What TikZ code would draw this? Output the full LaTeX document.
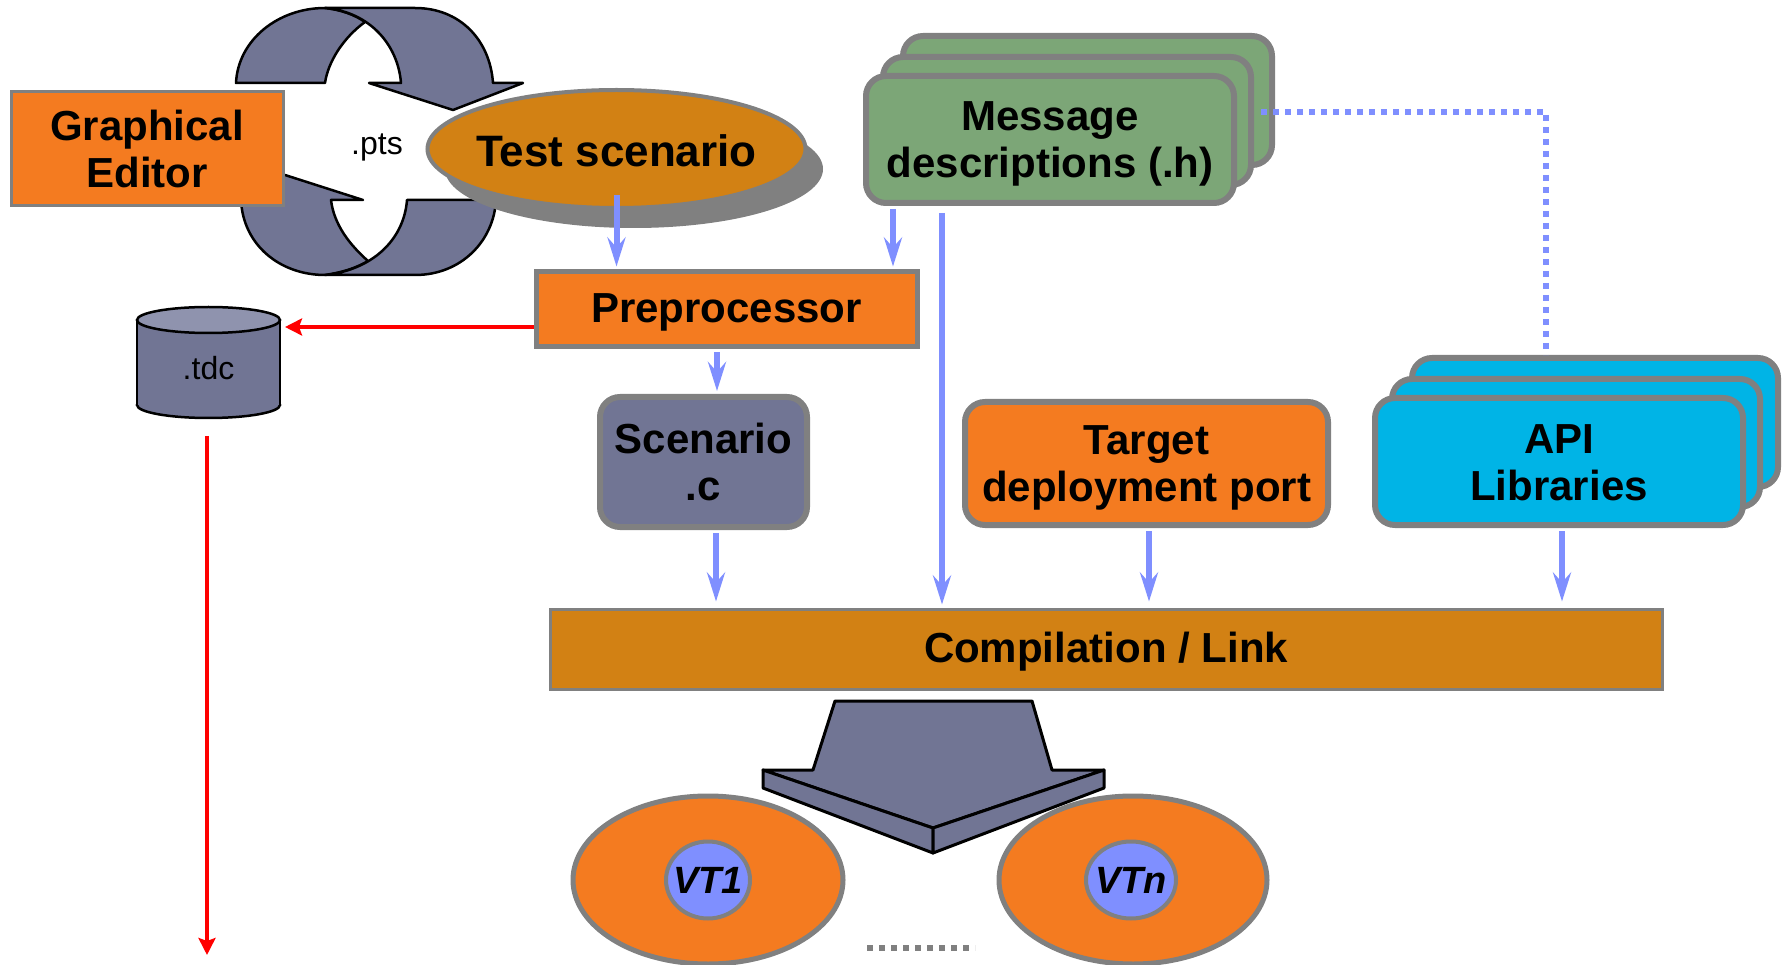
\documentclass[tikz,border=0pt]{standalone}
\usepackage{fontspec}
\setmainfont{Liberation Sans}
\usetikzlibrary{arrows.meta,shapes.geometric,calc}
\definecolor{orng}{HTML}{F47B20}
\definecolor{gold}{HTML}{D28114}
\definecolor{slate}{HTML}{717594}
\definecolor{slatelt}{HTML}{8F93AE}
\definecolor{grn}{HTML}{7CA677}
\definecolor{cyn}{HTML}{00B4E6}
\definecolor{blu}{HTML}{7F8FFF}
\definecolor{bord}{HTML}{808080}
\begin{document}
\begin{tikzpicture}[x=1pt,y=-1pt,
  txt/.style={font=\fontsize{42}{47}\selectfont\bfseries, align=center, text=black, inner sep=0pt},
  sqbox/.style={txt, draw=bord, line width=3pt},
  rdbox/.style={txt, draw=bord, line width=6pt, rounded corners=20pt},
  oval/.style={ellipse, draw=bord, inner sep=0pt},
  vtlabel/.style={font=\fontsize{38}{40}\selectfont\bfseries\itshape, inner sep=0pt},
  plain/.style={font=\fontsize{32}{36}\selectfont, inner sep=0pt},
  ribbon/.style={fill=slate, draw=black, line width=2.5pt, line join=round},
  flow/.style={draw=blu, line width=6pt, -{Stealth[length=29pt,width=18pt,inset=10pt]}, shorten >=3pt},
  link/.style={draw=red, line width=4pt, -{Stealth[length=17pt,width=17pt,inset=3pt]}},
  dotline/.style={line width=6pt, dash pattern=on 6pt off 6pt}
]
\useasboundingbox (0,0) rectangle (1786,965);

% circular arrow: upper half (back ribbon, then front ribbon with head)
\path[ribbon] (236,83) .. controls (238,40) and (278,8) .. (325,8)
  .. controls (342,10) and (355,15) .. (365,22)
  .. controls (343,38) and (328,62) .. (325,83) -- cycle;
\path[ribbon] (325,8) -- (415,8) .. controls (460,8) and (490,40) .. (493,83)
  -- (523,83) -- (453,110) -- (369,83) -- (401,83)
  .. controls (398,45) and (370,12) .. (325,8) -- cycle;
% circular arrow: lower half (back ribbon with head, then front ribbon)
\path[ribbon] (209,200) -- (241,200) .. controls (243,245) and (280,275) .. (325,275)
  .. controls (345,272) and (358,267) .. (368,261)
  .. controls (350,245) and (334,225) .. (331,200)
  -- (363,200) -- (285,175) -- cycle;
\path[ribbon] (325,275) -- (415,275) .. controls (462,275) and (494,240) .. (496,200)
  -- (407,200) .. controls (404,240) and (372,270) .. (325,275) -- cycle;

\node[sqbox, fill=orng, minimum width=272pt, minimum height=114pt] (ged) at (147,149) {Graphical\\Editor};
\node[plain] (pts) at (377,147) {.pts};

% test scenario with its shadow
\fill[bord] (634,169) ellipse [x radius=189, y radius=59];
\node[oval, line width=4pt, fill=gold, minimum width=378pt, minimum height=118pt] (ts) at (616.5,149) {};
\node[txt, font=\fontsize{44}{48}\selectfont\bfseries] (tslbl) at ($(ts)+(0,2)$) {Test scenario};

% message descriptions stack
\node[rdbox, fill=grn, minimum width=369pt, minimum height=129pt] (msgB) at (1087.5,100.5) {};
\node[rdbox, fill=grn, minimum width=368pt, minimum height=128pt] (msgM) at (1067,121) {};
\node[rdbox, fill=grn, minimum width=368pt, minimum height=127pt] (msg) at (1050,139.5) {};
\node[txt] (msglbl) at ($(msg)+(0,4)$) {Message\\descriptions (.h)};

\node[sqbox, line width=5pt, fill=orng, minimum width=381pt, minimum height=75pt] (pre) at (726.5,309.5) {};
\node[txt] (prelbl) at ($(pre)+(0,3)$) {Preprocessor};
\node[rdbox, fill=slate, minimum width=207pt, minimum height=130pt] (scn) at (703.5,462) {Scenario\\.c};
\node[rdbox, fill=orng, minimum width=363pt, minimum height=123pt] (tgt) at (1146.5,463.5) {};
\node[txt] (tgtlbl) at ($(tgt)+(0,4)$) {Target\\deployment port};

% API libraries stack
\node[rdbox, fill=cyn, minimum width=366pt, minimum height=129pt] (apiB) at (1595,422.5) {};
\node[rdbox, fill=cyn, minimum width=368pt, minimum height=128pt] (apiM) at (1576,443) {};
\node[rdbox, fill=cyn, minimum width=368pt, minimum height=127pt] (api) at (1559,461.5) {};
\node[txt] (apilbl) at ($(api)+(0,1)$) {API\\Libraries};

\node[sqbox, fill=gold, minimum width=1112pt, minimum height=80pt] (cmp) at (1106,649) {};
\node[txt] (cmplbl) at ($(cmp)+(0,3)$) {Compilation / Link};

% .tdc data store
\filldraw[fill=slate, draw=black, line width=2.5pt] (208.5,405) ellipse [x radius=71.5, y radius=13];
\fill[slate] (137,320) rectangle (280,405);
\draw[black, line width=2.5pt] (137,320) -- (137,405) (280,320) -- (280,405);
\filldraw[fill=slatelt, draw=black, line width=2.5pt] (208.5,320) ellipse [x radius=71.5, y radius=13];
\node[plain] (tdc) at (208.5,368) {.tdc};
\coordinate (tdcR) at (285,327);
\coordinate (tdcB) at (207,436);
\coordinate (sink) at (207,955);

% connectors
\draw[flow] ($(ts.south)+(0,-15)$) -- (pre.north -| ts.south);
\draw[flow, shorten <=3pt] (msg.south -| 893,0) -- (pre.north -| 893,0);
\draw[flow] ($(msg.south -| 942,0)+(0,7)$) -- (cmp.north -| 942,0);
\draw[flow, shorten <=3pt] (pre.south -| 717,0) -- (scn.north -| 717,0);
\draw[flow, shorten <=3pt, shorten >=6pt] (scn.south -| 716,0) -- (cmp.north -| 716,0);
\draw[flow, shorten <=3pt, shorten >=6pt] (tgt.south -| 1149,0) -- (cmp.north -| 1149,0);
\draw[flow, shorten <=3pt, shorten >=6pt] (api.south -| 1562,0) -- (cmp.north -| 1562,0);
\draw[blu, dotline] ($(msgM.east)+(7,-9)$) -| (apiB.north -| 1546,0);
\draw[link] (pre.west |- tdcR) -- (tdcR);
\draw[link] (tdcB) -- (sink);

% virtual testers
\node[oval, line width=5pt, fill=orng, minimum width=270pt, minimum height=168pt] (vt1o) at (708,880) {};
\node[oval, line width=4pt, fill=blu, minimum width=84pt, minimum height=77pt] (vt1i) at (708,880) {};
\node[vtlabel] (vt1) at (vt1i) {VT1};
\node[oval, line width=5pt, fill=orng, minimum width=268pt, minimum height=168pt] (vtno) at (1133,880) {};
\node[oval, line width=4pt, fill=blu, minimum width=90pt, minimum height=77pt] (vtni) at (1131,880) {};
\node[vtlabel] (vtn) at (vtni) {VTn};
\draw[bord, dotline] (867,948) -- (975,948);

% block arrow from the build to the testers
\path[ribbon, line width=3pt] (835,701) -- (1032,701) -- (1052,770) -- (1104,770) -- (933,828) -- (763,770) -- (813,770) -- cycle;
\path[ribbon, line width=3pt] (763,770) -- (933,828) -- (933,853) -- (763,788) -- cycle;
\path[ribbon, line width=3pt] (933,828) -- (1104,770) -- (1104,788) -- (933,853) -- cycle;
\end{tikzpicture}
\end{document}
